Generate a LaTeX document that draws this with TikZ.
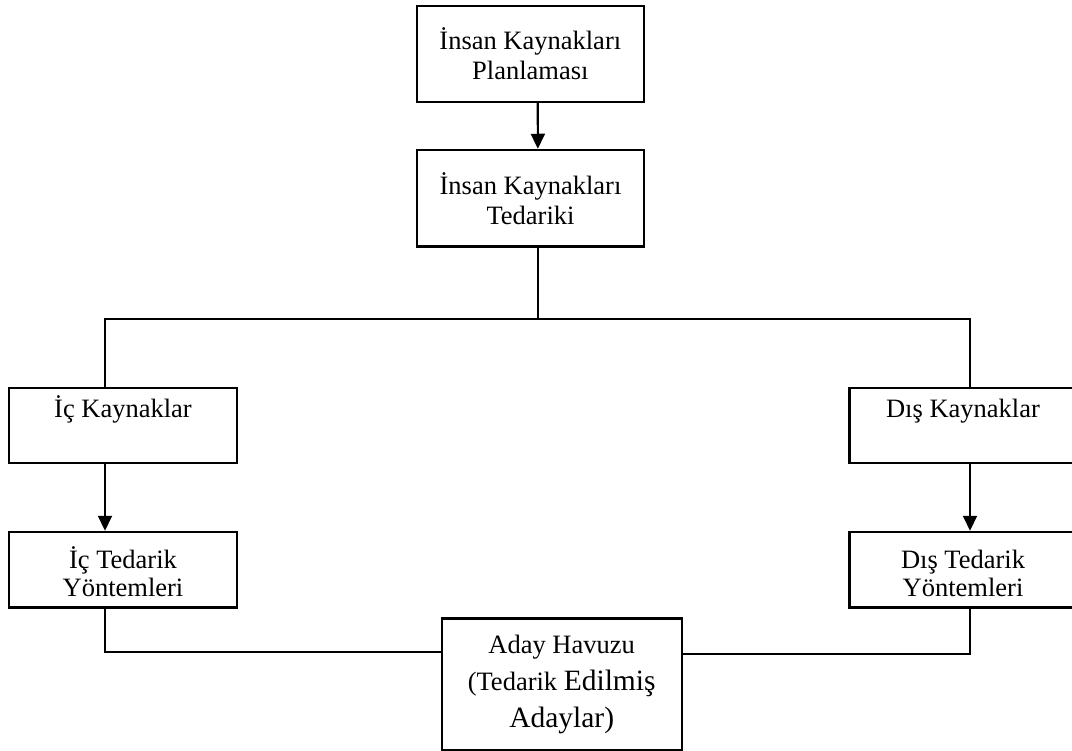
\documentclass[tikz,border=0pt]{standalone}
\usepackage{fontspec}
\setmainfont{Liberation Serif}
\usetikzlibrary{arrows.meta}
\tikzset{>={Triangle[length=15pt,width=14pt]},every node/.style={font=\fontsize{26.5}{30}\selectfont},
 box/.style={draw,line width=2.4pt,align=center,inner sep=0pt,minimum width=227pt},
 onerow/.style={box,minimum height=75pt,text height=18pt,text depth=33pt},
 tworow/.style={box,minimum height=96pt},link/.style={line width=2.1pt}}

\begin{document}
\begin{tikzpicture}[x=1pt,y=-1pt]
\useasboundingbox (0,0) rectangle (1072,751);
\node[tworow] (plan) at (530.3,53.9) {İnsan Kaynakları\\Planlaması};
\node[tworow,minimum height=96.7pt] (tedarik) at (530.5,198.3) {İnsan Kaynakları\\Tedariki};
\node[onerow,minimum width=228pt] (ickay) at (123,425.5) {İç Kaynaklar};
\node[onerow] (diskay) at (963,425.5) {Dış Kaynaklar};
\node[box,minimum width=228pt,minimum height=75.7pt,text height=54pt,
 font=\fontsize{26.5}{28}\selectfont] (icted) at (123,569.8) {İç Tedarik\\Yöntemleri};
\node[box,minimum height=75.7pt,text height=54pt,
 font=\fontsize{26.5}{28}\selectfont] (disted) at (963,569.8) {Dış Tedarik\\Yöntemleri};
\node[box,minimum width=240pt,minimum height=131.7pt,font=\fontsize{26.5}{37}\selectfont] (aday) at (561.7,684.2)
 {Aday Havuzu\\(Tedarik {\fontsize{29.5}{37}\selectfont Edilmiş}\\{\fontsize{29.5}{37}\selectfont Adaylar)}};
\draw[->,link] ([xshift=7.4pt]plan.south) -- ([xshift=7.4pt]tedarik.north);
\draw[link] ([xshift=7.2pt]tedarik.south) -- ++(0,71.3) coordinate (fork);
\draw[link] ([xshift=-18pt]ickay.north) |- (fork) -| ([xshift=7pt]diskay.north);
\foreach \s/\n in {-18/ic,7/dis}
 {\draw[->,link] ([xshift=\s pt]\n kay.south) -- ([xshift=\s pt]\n ted.north);}
\draw[link] ([xshift=-18pt]icted.south) |- ([yshift=32pt]aday.west);
\draw[link] ([xshift=7pt]disted.south) |- ([yshift=30pt]aday.east);
\end{tikzpicture}
\end{document}
